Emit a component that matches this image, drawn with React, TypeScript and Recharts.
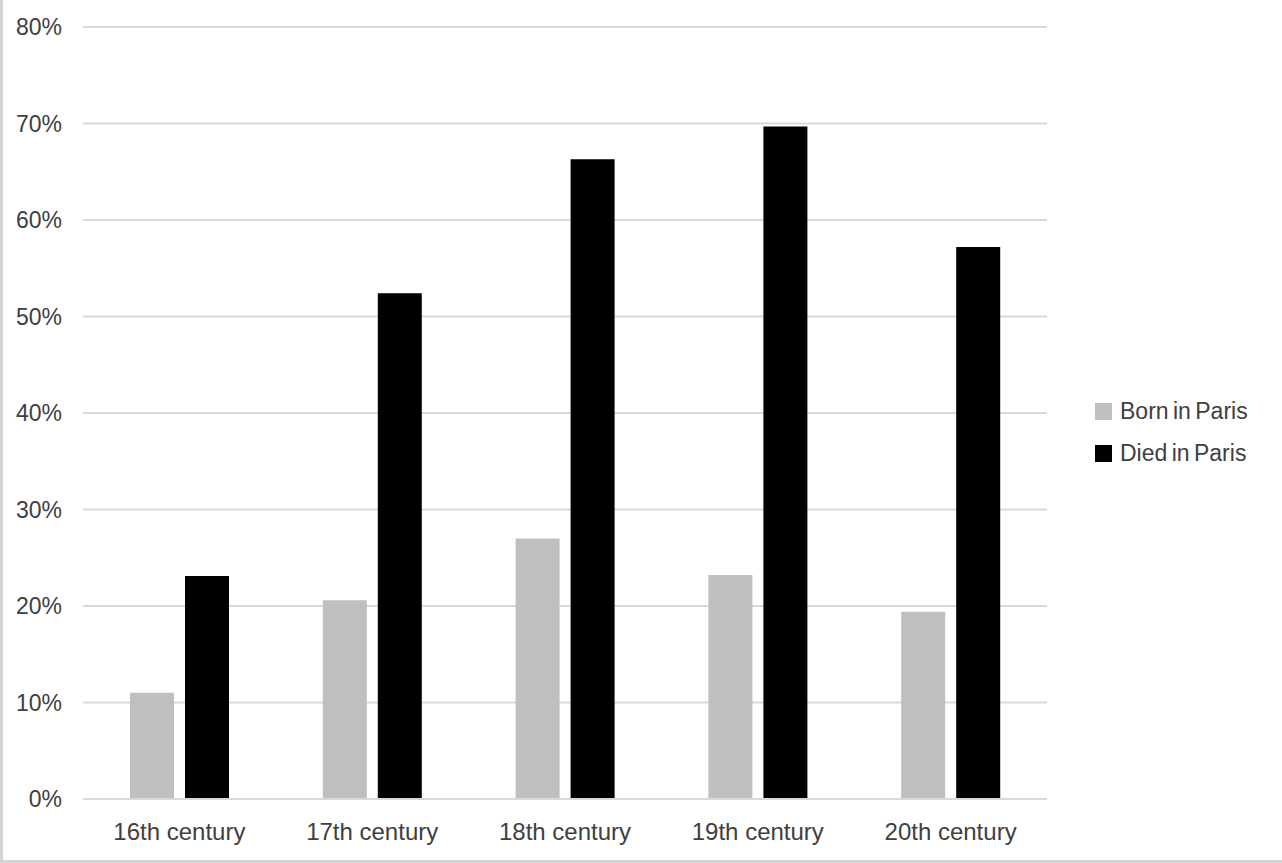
import { BarChart, Bar, XAxis, YAxis, CartesianGrid } from 'recharts'

const centuries = ['16th century', '17th century', '18th century', '19th century', '20th century']
const bornInParis = [11.0, 20.6, 27.0, 23.2, 19.4]
const diedInParis = [23.1, 52.4, 66.3, 69.7, 57.2]
const yTicks = [0, 10, 20, 30, 40, 50, 60, 70, 80]
const seriesNames = ['Born in Paris', 'Died in Paris']
const seriesColors = ['#bfbfbf', '#000000']

const data = centuries.map((c, i) => ({ century: c, born: bornInParis[i], died: diedInParis[i] }))

const FONT = '"Liberation Sans", Arial, Helvetica, sans-serif'
const TEXT = '#404040'

export default function App() {
  return (
    <div style={{ position: 'fixed', left: 0, top: 0, width: 1282, height: 863, background: '#fff',
      borderLeft: '3px solid #d4d4d4', borderBottom: '3px solid #d4d4d4', boxSizing: 'border-box' }}>
      <div style={{ position: 'absolute', left: -3, top: 0 }}>
        <BarChart width={1282} height={863} data={data} margin={{ top: 27, right: 235, bottom: 0, left: 0 }}
          barSize={44} barGap={11}>
          <CartesianGrid vertical={false} stroke="#d9d9d9" strokeWidth={2} />
          <XAxis dataKey="century" height={64} tickLine={false} tickSize={0} tickMargin={24}
            axisLine={{ stroke: '#d9d9d9', strokeWidth: 2 }}
            tick={{ fontFamily: FONT, fontSize: 24, fill: TEXT }} />
          <YAxis width={83} domain={[0, 80]} ticks={yTicks} axisLine={false} tickLine={false}
            tickSize={0} tickMargin={21} tickFormatter={(v: number) => `${v}%`}
            tick={{ fontFamily: FONT, fontSize: 23, fill: TEXT }} />
          <Bar dataKey="born" name={seriesNames[0]} fill={seriesColors[0]} isAnimationActive={false} />
          <Bar dataKey="died" name={seriesNames[1]} fill={seriesColors[1]} isAnimationActive={false} />
        </BarChart>
      </div>
      <div style={{ position: 'absolute', left: 1092, top: 390, fontFamily: FONT, fontSize: 23, color: TEXT }}>
        {seriesNames.map((n, i) => (
          <div key={n} style={{ display: 'flex', alignItems: 'center', height: 42 }}>
            <span style={{ width: 17, height: 17, background: seriesColors[i], display: 'inline-block', marginRight: 8 }} />
            <span style={{ wordSpacing: -2 }}>{n}</span>
          </div>
        ))}
      </div>
    </div>
  )
}
